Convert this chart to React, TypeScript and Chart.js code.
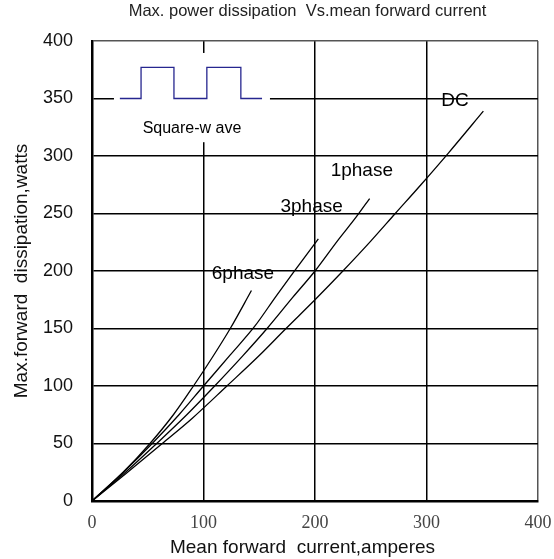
import React, { useEffect, useRef } from "react";
import { Chart, registerables } from "chart.js";

Chart.register(...registerables);

// Axis ranges / ticks
const xTickValues = [0, 100, 200, 300, 400];
const yTickStep = 50;

// DC
const dcCurrent = [0, 30, 63, 90, 121, 150, 174, 200, 225, 250, 272, 295, 320, 351];
const dcPower = [0, 23.5, 50, 72, 100, 126.5, 150, 175, 200, 226, 250, 275, 303, 339];

// 1 phase
const onePhaseCurrent = [0, 30, 58, 85, 110, 135, 157, 180, 200, 220, 237, 249];
const onePhasePower = [0, 25, 50, 75, 100, 126, 150, 177, 200, 226, 247, 263];

// 3 phase
const threePhaseCurrent = [0, 28, 54, 78, 100, 124, 146, 165, 180, 203];
const threePhasePower = [0, 25, 50, 75, 100, 127, 152, 178, 198, 228];

// 6 phase
const sixPhaseCurrent = [0, 28, 52, 73, 91, 108, 124, 143];
const sixPhasePower = [0, 25, 50, 75, 100, 125, 150, 183];

// Square-wave inset symbol
const squareX = [25, 44, 44, 73.5, 73.5, 103, 103, 133.5, 133.5, 152.5];
const squareY = [350, 350, 377, 377, 350, 350, 377, 377, 350, 350];

const curveLabels = ["DC", "1phase", "3phase", "6phase"];
const insetLabel = "Square-w ave";
const titleText = "Max. power dissipation  Vs.mean forward current";
const xTitle = "Mean forward  current,amperes";
const yTitle = "Max.forward  dissipation,watts";

const toPoints = (xs: number[], ys: number[]) => xs.map((x, i) => ({ x, y: ys[i] }));

export default function App() {
  const ref = useRef<HTMLCanvasElement>(null);

  useEffect(() => {
    const canvas = ref.current;
    if (!canvas) return;

    const labelPos: Record<string, [number, number]> = {
      DC: [325.6, 348],
      "1phase": [242, 287],
      "3phase": [197, 255.6],
      "6phase": [135.4, 198],
    };

    const annot = {
      id: "annot",
      beforeDatasetsDraw(chart: any) {
        const { ctx, scales } = chart;
        const x = scales.x;
        const y = scales.y;
        ctx.save();
        ctx.fillStyle = "#ffffff";
        const l = x.getPixelForValue(19.7);
        const r = x.getPixelForValue(159.6);
        const t = y.getPixelForValue(389.6);
        const b = y.getPixelForValue(312);
        ctx.fillRect(l, t, r - l, b - t);
        ctx.restore();
      },
      afterDatasetsDraw(chart: any) {
        const { ctx, scales } = chart;
        const x = scales.x;
        const y = scales.y;
        ctx.save();
        ctx.fillStyle = "#000";
        ctx.textAlign = "center";
        ctx.textBaseline = "middle";
        ctx.font = "19px 'Liberation Sans', Arial, sans-serif";
        curveLabels.forEach((name) => {
          const p = labelPos[name];
          ctx.fillText(name, x.getPixelForValue(p[0]), y.getPixelForValue(p[1]));
        });
        ctx.font = "16px 'Liberation Sans', Arial, sans-serif";
        ctx.fillText(insetLabel, x.getPixelForValue(89.7), y.getPixelForValue(323.5));
        // chart title
        ctx.fillStyle = "#222";
        ctx.font = "16.5px 'Liberation Sans', Arial, sans-serif";
        ctx.fillText(titleText, 307.5, 11);
        // x axis title
        ctx.fillStyle = "#111";
        ctx.font = "19px 'Liberation Sans', Arial, sans-serif";
        ctx.fillText(xTitle, 302.5, 548);
        ctx.restore();
      },
    };

    const gridColor = (c: any) => (c.tick && c.tick.value === 400 ? "#555" : "#000");

    const chart = new Chart(canvas, {
      type: "scatter",
      data: {
        datasets: [
          { label: "DC", data: toPoints(dcCurrent, dcPower) },
          { label: "1phase", data: toPoints(onePhaseCurrent, onePhasePower) },
          { label: "3phase", data: toPoints(threePhaseCurrent, threePhasePower) },
          { label: "6phase", data: toPoints(sixPhaseCurrent, sixPhasePower) },
        ].map((d) => ({
          ...d,
          showLine: true,
          pointRadius: 0,
          borderColor: "#000",
          borderWidth: 1.3,
          cubicInterpolationMode: "monotone" as const,
          fill: false,
        })).concat([
          {
            label: "Square-wave",
            data: toPoints(squareX, squareY),
            showLine: true,
            pointRadius: 0,
            borderColor: "#26268f",
            borderWidth: 1.3,
            tension: 0,
            fill: false,
          } as any,
        ]),
      },
      options: {
        animation: false,
        responsive: false,
        layout: { padding: { left: 0, right: 16, top: 41, bottom: 0 } },
        plugins: {
          legend: { display: false },
          tooltip: { enabled: false },
          title: { display: false },
        },
        scales: {
          x: {
            type: "linear",
            min: 0,
            max: 400,
            afterFit: (s: any) => {
              s.height = 58;
              s.paddingLeft = 0;
              s.paddingRight = 0;
            },
            afterBuildTicks: (s: any) => {
              s.ticks = xTickValues.map((v) => ({ value: v }));
            },
            ticks: {
              autoSkip: false,
              maxRotation: 0,
              padding: 11,
              color: "#444",
              font: { family: "'Liberation Serif', 'Times New Roman', serif", size: 18 },
            },
            grid: { color: gridColor, lineWidth: 1.5, drawTicks: false },
            border: { display: true, color: "#000", width: 2.5 },
            title: { display: false, text: xTitle },
          },
          y: {
            type: "linear",
            min: 0,
            max: 400,
            afterFit: (s: any) => {
              s.width = 92;
            },
            ticks: {
              stepSize: yTickStep,
              autoSkip: false,
              padding: 19,
              color: "#111",
              font: { family: "'Liberation Sans', Arial, sans-serif", size: 18 },
            },
            grid: { color: gridColor, lineWidth: 1.5, drawTicks: false },
            border: { display: true, color: "#000", width: 2.5 },
            title: {
              display: true,
              text: yTitle,
              color: "#111",
              font: { family: "'Liberation Sans', Arial, sans-serif", size: 19 },
              padding: { top: 10.6, bottom: 0 },
            },
          },
        },
      },
      plugins: [annot],
    });

    return () => chart.destroy();
  }, []);

  return (
    <div style={{ position: "absolute", left: 0, top: 0, width: 554, height: 559, background: "#fff" }}>
      <canvas ref={ref} width={554} height={559} style={{ width: 554, height: 559, display: "block" }} />
    </div>
  );
}
